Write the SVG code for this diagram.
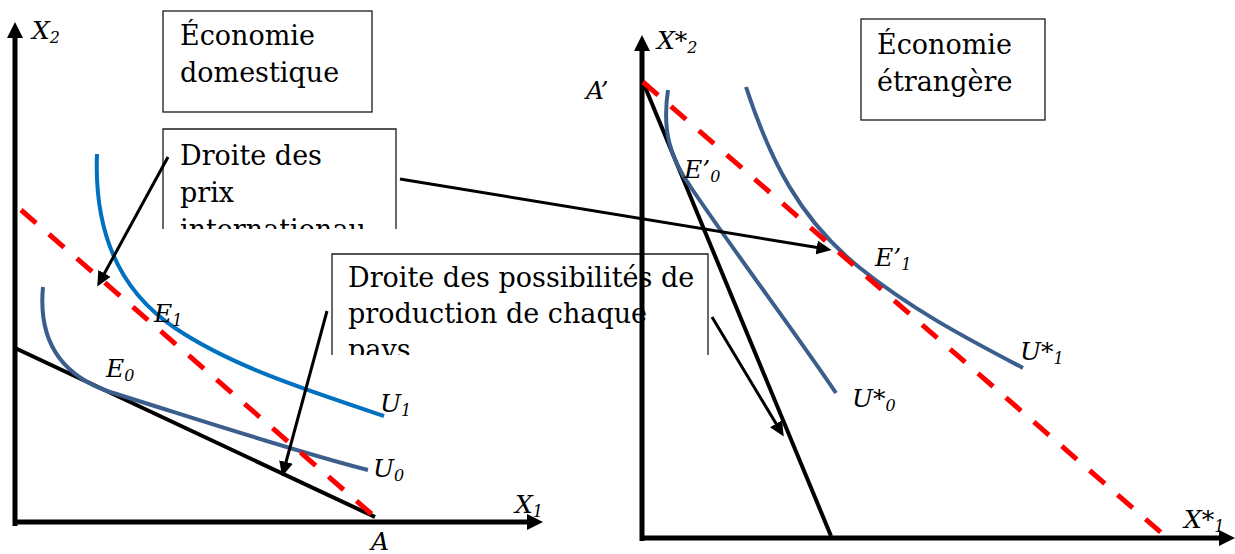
<svg xmlns="http://www.w3.org/2000/svg" width="1235" height="554" viewBox="0 0 1235 554">
  <style>
    .box { fill: #ffffff; stroke: #1a1a1a; stroke-width: 1.3; }
    .boxtext { font-family: "DejaVu Serif", "Liberation Serif", serif; font-size: 27px; fill: #000; }
    .lbl { font-family: "DejaVu Serif", "Liberation Serif", serif; font-style: italic; font-size: 25px; fill: #000; }
    .sub { font-size: 16px; }
    .axis { stroke: #000; stroke-width: 5; fill: none; }
    .head { fill: #000; stroke: none; }
    .ppf { stroke: #000; stroke-width: 4; fill: none; }
    .price { stroke: #ff0000; stroke-width: 5; stroke-dasharray: 20 17; fill: none; }
    .u-bright { stroke: #0070c0; stroke-width: 4; fill: none; }
    .u-dark { stroke: #3b5e8c; stroke-width: 4; fill: none; }
    .conn { stroke: #000; stroke-width: 3; fill: none; marker-end: url(#arrow); }
  </style>
  <defs>
    <marker id="arrow" viewBox="0 0 15 14" refX="0.5" refY="7" markerWidth="15" markerHeight="14" markerUnits="userSpaceOnUse" orient="auto">
      <path d="M0,0 L15,7 L0,14 z" fill="#000"/>
    </marker>
    <clipPath id="clip-prix"><rect x="150" y="120" width="260" height="109"/></clipPath>
    <clipPath id="clip-prod"><rect x="320" y="245" width="400" height="110"/></clipPath>
  </defs>

  <rect x="0" y="0" width="1235" height="554" fill="#ffffff"/>

  <!-- text boxes -->
  <g id="box-domestique">
    <rect class="box" x="163" y="11" width="209" height="101"/>
    <text class="boxtext" x="180" y="45">Économie</text>
    <text class="boxtext" x="180" y="82">domestique</text>
  </g>
  <g id="box-prix">
    <g clip-path="url(#clip-prix)">
      <path class="box" d="M163,229 V129 H396 V229"/>
      <text class="boxtext" x="180" y="165">Droite des</text>
      <text class="boxtext" x="180" y="202">prix</text>
      <text class="boxtext" x="180" y="239">internationau</text>
    </g>
  </g>
  <g id="box-production">
    <g clip-path="url(#clip-prod)">
      <path class="box" d="M332,355 V254 H708 V355"/>
      <text class="boxtext" x="348" y="287">Droite des possibilités de</text>
      <text class="boxtext" x="348" y="323">production de chaque</text>
      <text class="boxtext" x="348" y="359">pays</text>
    </g>
  </g>
  <g id="box-etrangere">
    <rect class="box" x="861" y="19" width="184" height="101"/>
    <text class="boxtext" x="877" y="54">Économie</text>
    <text class="boxtext" x="877" y="91">étrangère</text>
  </g>

  <!-- left chart: domestic economy -->
  <g id="axes-domestique">
    <line class="axis" x1="15" y1="526" x2="15" y2="37"/>
    <polygon class="head" points="15,22 7,38 23,38"/>
    <line class="axis" x1="13" y1="522" x2="528" y2="522"/>
    <polygon class="head" points="543,522 527,514 527,530"/>
    <text class="lbl" x="32" y="39">X<tspan class="sub" dy="4">2</tspan></text>
    <text class="lbl" x="515" y="513">X<tspan class="sub" dy="4">1</tspan></text>
    <text class="lbl" x="371" y="550">A</text>
  </g>
  <g id="ppf-domestique">
    <line class="ppf" x1="15" y1="348" x2="375" y2="517"/>
  </g>
  <g id="U0">
    <path class="u-dark" d="M43,287 C38,340 60,375 110,392 C200,420 290,450 368,470"/>
    <text class="lbl" x="373" y="477">U<tspan class="sub" dy="4">0</tspan></text>
  </g>
  <g id="U1">
    <path class="u-bright" d="M97,154 C94,230 118,290 175,328 C230,365 300,388 384,416"/>
    <text class="lbl" x="380" y="412">U<tspan class="sub" dy="4">1</tspan></text>
  </g>
  <g id="prix-domestique">
    <line class="price" x1="21" y1="210" x2="375" y2="517"/>
  </g>
  <g id="E0"><text class="lbl" x="106" y="377">E<tspan class="sub" dy="4">0</tspan></text></g>
  <g id="E1"><text class="lbl" x="154" y="322">E<tspan class="sub" dy="4">1</tspan></text></g>

  <!-- right chart: foreign economy -->
  <g id="axes-etrangere">
    <line class="axis" x1="642" y1="541" x2="642" y2="50"/>
    <polygon class="head" points="642,35 634,51 650,51"/>
    <line class="axis" x1="640" y1="538" x2="1220" y2="538"/>
    <polygon class="head" points="1235,538 1219,530 1219,546"/>
    <text class="lbl" x="657" y="49">X*<tspan class="sub" dy="4">2</tspan></text>
    <text class="lbl" x="1184" y="528">X*<tspan class="sub" dy="4">1</tspan></text>
    <text class="lbl" x="586" y="99">A’</text>
  </g>
  <g id="ppf-etrangere">
    <line class="ppf" x1="643" y1="82" x2="831" y2="536"/>
  </g>
  <g id="U-star-0">
    <path class="u-dark" d="M668,90 C662,130 670,158 690,186 C740,260 790,325 836,393"/>
    <text class="lbl" x="852" y="407">U*<tspan class="sub" dy="4">0</tspan></text>
  </g>
  <g id="U-star-1">
    <path class="u-dark" d="M746,87 C770,160 800,220 860,268 C910,308 960,335 1023,368"/>
    <text class="lbl" x="1020" y="360">U*<tspan class="sub" dy="4">1</tspan></text>
  </g>
  <g id="prix-etrangere">
    <line class="price" x1="643" y1="82" x2="1165" y2="536"/>
  </g>
  <g id="E-prime-0"><text class="lbl" x="684" y="178">E’<tspan class="sub" dy="4">0</tspan></text></g>
  <g id="E-prime-1"><text class="lbl" x="875" y="266">E’<tspan class="sub" dy="4">1</tspan></text></g>

  <!-- connectors -->
  <g id="connectors">
    <line class="conn" x1="168" y1="157" x2="104.2" y2="273.8"/>
    <line class="conn" x1="327" y1="311" x2="285.9" y2="462.5"/>
    <line class="conn" x1="400" y1="179" x2="817.2" y2="247.6"/>
    <line class="conn" x1="712" y1="317" x2="776.3" y2="424.1"/>
  </g>
</svg>
